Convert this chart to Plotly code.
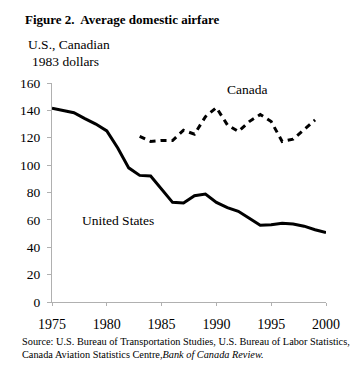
import plotly.graph_objects as go

us_years = list(range(1975, 2001))
us_values = [141.5, 139.8, 138.3, 134, 130, 125, 112.5, 98, 92.5, 92, 82.4, 72.8, 72.3,
             77.6, 78.8, 72.8, 69, 66.3, 61.2, 56, 56.4, 57.6, 57, 55.4, 52.8, 50.8]

ca_years = list(range(1983, 2000))
ca_values = [121, 117.3, 118, 118, 125.5, 122.6, 135.4, 142, 129.4, 124.6, 131.8, 137,
             131.8, 117.3, 119, 125.8, 133]

x_ticks = [1975, 1980, 1985, 1990, 1995, 2000]
y_ticks = [0, 20, 40, 60, 80, 100, 120, 140, 160]

serif = "Liberation Serif"

fig = go.Figure()
fig.add_trace(go.Scatter(x=us_years, y=us_values, mode="lines",
                         line=dict(color="black", width=3), showlegend=False))
fig.add_trace(go.Scatter(x=ca_years, y=ca_values, mode="lines",
                         line=dict(color="black", width=3, dash="6px,5px"), showlegend=False))

fig.add_annotation(x=1992.83, y=155.6, text="Canada", showarrow=False,
                   font=dict(family=serif, size=13.5, color="black"))
fig.add_annotation(x=1981.0, y=59.9, text="United States", showarrow=False,
                   font=dict(family=serif, size=13.5, color="black"))

fig.add_annotation(xref="paper", yref="paper", x=-0.105, y=1.288, xanchor="left", yanchor="middle",
                   text="<b>Figure 2.  Average domestic airfare</b>", showarrow=False,
                   font=dict(family=serif, size=13, color="black"))
fig.add_annotation(xref="paper", yref="paper", x=-0.094, y=1.178, xanchor="left", yanchor="middle",
                   text="U.S., Canadian", showarrow=False,
                   font=dict(family=serif, size=13.5, color="black"))
fig.add_annotation(xref="paper", yref="paper", x=-0.079, y=1.097, xanchor="left", yanchor="middle",
                   text="1983 dollars", showarrow=False,
                   font=dict(family=serif, size=13.5, color="black"))
fig.add_annotation(xref="paper", yref="paper", x=-0.118, y=-0.181, xanchor="left", yanchor="middle",
                   text="Source: U.S. Bureau of Transportation Studies, U.S. Bureau of Labor Statistics,",
                   showarrow=False, font=dict(family=serif, size=10.3, color="black"))
fig.add_annotation(xref="paper", yref="paper", x=-0.118, y=-0.242, xanchor="left", yanchor="middle",
                   text="Canada Aviation Statistics Centre,<i>Bank of Canada Review.</i>",
                   showarrow=False, font=dict(family=serif, size=10.3, color="black"))

fig.update_layout(
    width=352, height=370,
    margin=dict(l=39, r=34, t=75, b=76),
    paper_bgcolor="white", plot_bgcolor="white",
    font=dict(family=serif, size=14, color="black"),
)
fig.update_xaxes(range=[1975, 2000], tickvals=x_ticks, ticktext=[str(v) for v in x_ticks],
                 showgrid=False, zeroline=False, showline=True, linecolor="#b0b0b0", linewidth=1,
                 ticks="outside", ticklen=3, tickcolor="#b0b0b0", ticklabelstandoff=6,
                 tickfont=dict(family=serif, size=14, color="black"))
fig.update_yaxes(range=[0, 160], tickvals=y_ticks, showgrid=False, zeroline=False,
                 showline=True, linecolor="#b0b0b0", linewidth=1,
                 ticks="outside", ticklen=4, tickcolor="#b0b0b0", ticklabelstandoff=4,
                 tickfont=dict(family=serif, size=13.5, color="black"))

fig.write_html("out.html")
